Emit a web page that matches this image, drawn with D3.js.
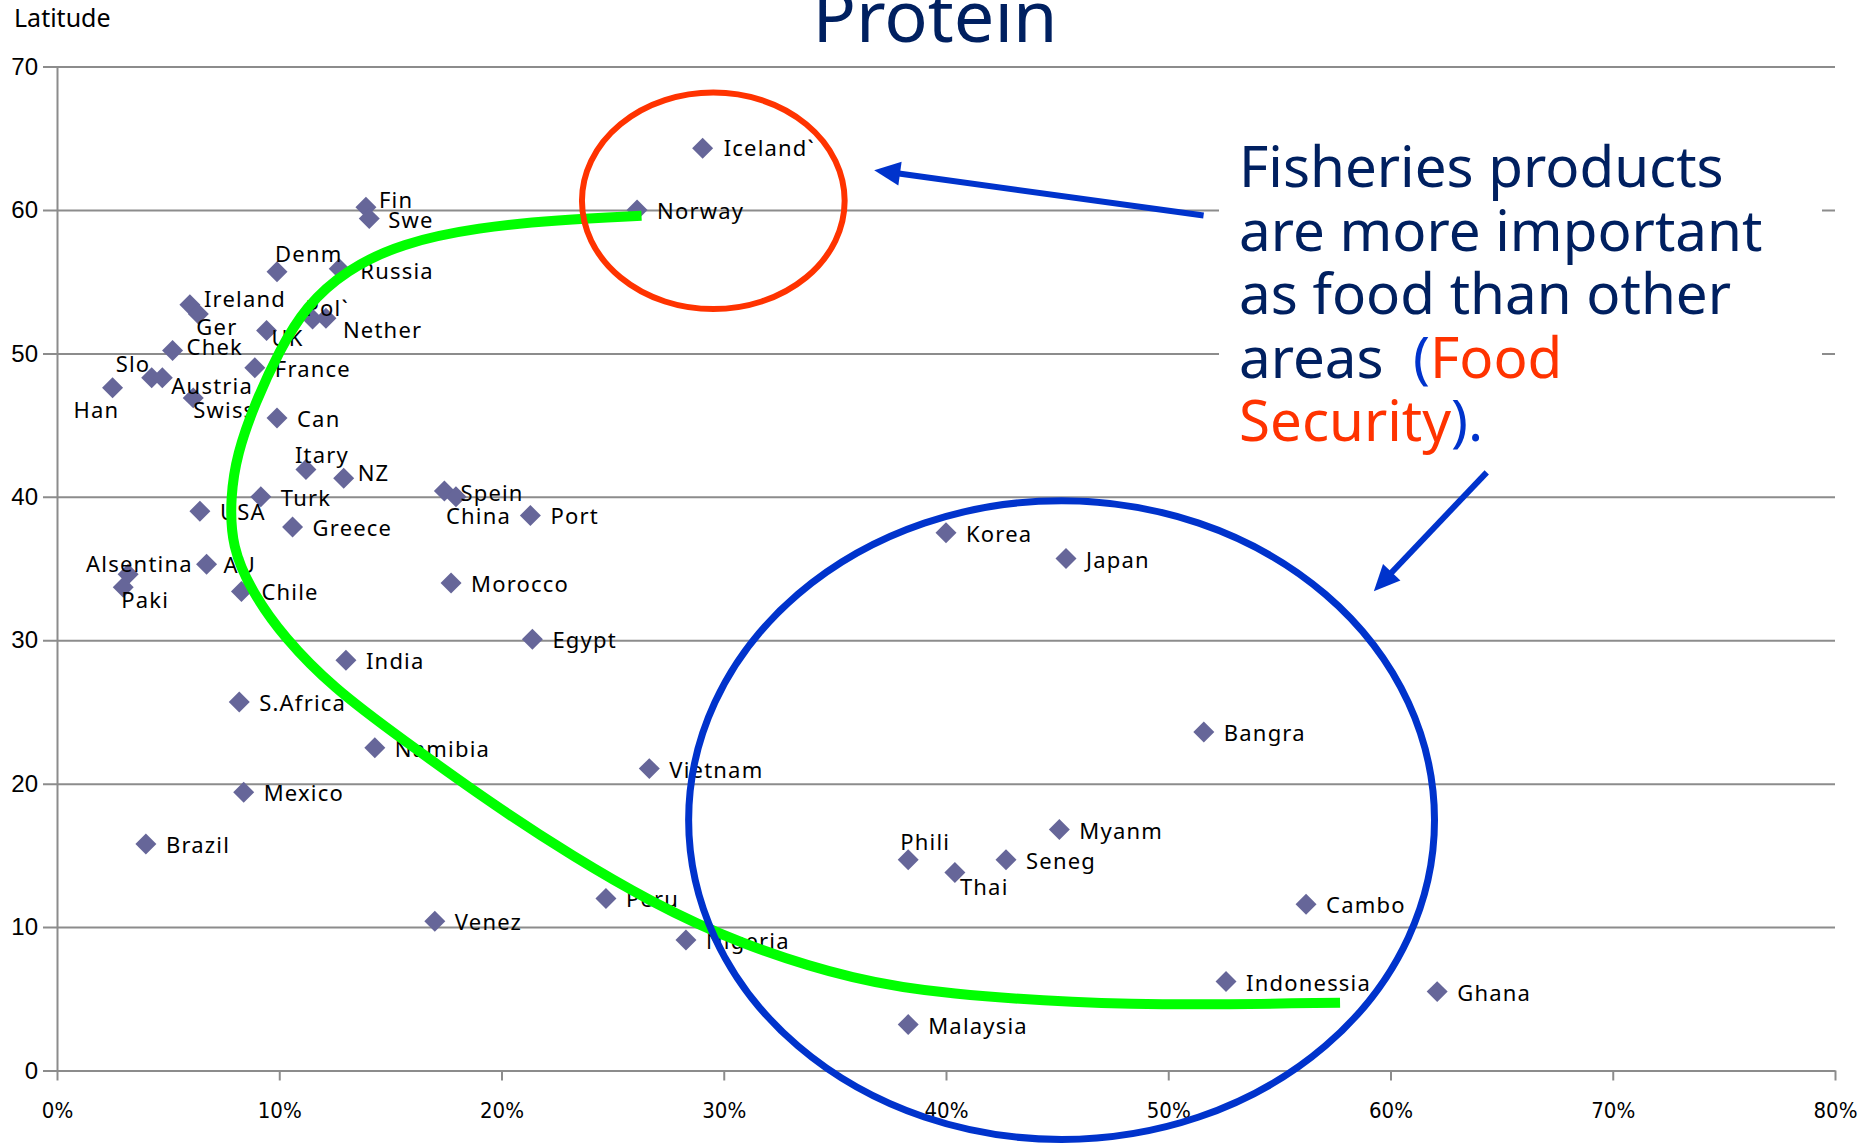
<!DOCTYPE html>
<html>
<head>
<meta charset="utf-8">
<script src="https://cdn.jsdelivr.net/npm/d3@7"></script>
<style>
    body { margin: 0; background: #fff; }
    #chart { width: 1865px; height: 1146px; }
</style>
</head>
<body>
<div id="chart"></div>
<script>
// share of fish in animal protein (%) vs latitude
const countries = ["Iceland`", "Norway", "Fin", "Swe", "Denm", "Russia", "Ireland", "Ger", "Pol`", "Nether",
    "UK", "Chek", "France", "Slo", "Austria", "Han", "Swiss", "Can", "Itary", "NZ",
    "Spein", "China", "Turk", "USA", "Port", "Greece", "Alsentina", "AU", "Paki", "Chile",
    "Morocco", "Egypt", "India", "S.Africa", "Namibia", "Vietnam", "Mexico", "Brazil", "Venez", "Peru",
    "Nigeria", "Korea", "Japan", "Bangra", "Myanm", "Phili", "Seneg", "Thai", "Cambo", "Indonessia",
    "Ghana", "Malaysia"];
const fishShare = [29.05, 26.1, 13.9, 14.05, 9.9, 12.7, 5.98, 6.36, 11.5, 12.1,
    9.43, 5.2, 8.9, 4.26, 4.74, 2.5, 6.13, 9.9, 11.2, 12.9,
    17.43, 17.95, 9.17, 6.43, 21.3, 10.6, 3.2, 6.73, 2.98, 8.3,
    17.73, 21.39, 13.0, 8.2, 14.3, 26.65, 8.4, 4.0, 17.0, 24.7,
    28.3, 40.0, 45.4, 51.6, 45.1, 38.3, 42.7, 40.4, 56.2, 52.6,
    62.1, 38.3];
const latitude = [64.3, 60.0, 60.2, 59.4, 55.7, 55.9, 53.4, 52.75, 52.4, 52.45,
    51.6, 50.2, 49.0, 48.3, 48.3, 47.6, 46.9, 45.5, 41.9, 41.3,
    40.4, 40.0, 40.0, 39.0, 38.7, 37.9, 34.6, 35.3, 33.7, 33.4,
    34.0, 30.07, 28.6, 25.7, 22.5, 21.05, 19.4, 15.8, 10.4, 12.0,
    9.1, 37.5, 35.7, 23.6, 16.8, 14.7, 14.7, 13.8, 11.6, 6.2,
    5.5, 3.2];
const xTicks = [0, 10, 20, 30, 40, 50, 60, 70, 80];
const yTicks = [0, 10, 20, 30, 40, 50, 60, 70];

// hand drawn callouts, in data units
const trendLine = [[26.3, 59.6], [22.5, 59.3], [19.0, 58.8], [15.5, 57.7], [13.0, 55.8], [11.2, 53.3],
    [10.0, 50.2], [8.9, 46.5], [8.1, 43.0], [7.8, 40.0], [7.85, 36.5], [8.8, 33.3], [10.22, 30.18],
    [12.41, 26.7], [15.41, 23.22], [19.9, 18.24], [23.22, 14.93], [26.59, 11.86], [30.6, 8.87],
    [36.01, 6.22], [40.18, 5.31], [45.75, 4.73], [50.88, 4.56], [57.73, 4.73]];
const redRing = {cx: 29.53, cy: 60.64, rx: 5.91, ry: 7.55};
const blueRing = {cx: 45.2, cy: 17.46, rx: 16.78, ry: 22.27};
const arrowLines = [{from: [51.59, 59.62], to: [36.77, 62.78]}, {from: [64.33, 41.71], to: [59.25, 33.42]}];

// label placement (px), default is right of the marker
const labelNudge = {
    "Iceland`": [21, 0], "Fin": [13, -7], "Swe": [19, 1], "Denm": [-2, -18], "Russia": [21, 2],
    "Ireland": [14, -6], "Ger": [-2, 13], "Pol`": [-7, -11], "Nether": [17, 12], "UK": [5, 8],
    "Chek": [14, -4], "Slo": [-36, -14], "Austria": [9, 8], "Han": [-39, 22], "Swiss": [0, 12],
    "Itary": [-11, -15], "NZ": [14, -5], "Spein": [16, 2], "China": [-10, 19], "Alsentina": [-42, -10],
    "AU": [17, 1], "Paki": [-2, 13], "Phili": [-8, -18], "Thai": [5, 14]
};

class FishScatter {
    constructor(parentElement) {
        this.parentElement = parentElement;
        this.data = countries.map((c, i) => ({name: c, x: fishShare[i], y: latitude[i]}));
        this.initVis();
    }
    initVis() {
        let vis = this;
        vis.width = 1865;
        vis.height = 1146;

        vis.svg = d3.select("#" + vis.parentElement).append("svg")
            .attr("width", vis.width)
            .attr("height", vis.height);

        vis.x = d3.scaleLinear().domain([0, 80]).range([57, 1835]);
        vis.y = d3.scaleLinear().domain([0, 70]).range([1070.5, 66.6]);

        vis.updateVis();
    }
    updateVis() {
        let vis = this;
        let plotW = vis.x(80) - vis.x(0);

        // y axis + gridlines
        vis.svg.append("g")
            .attr("transform", `translate(${vis.x(0)},0)`)
            .call(d3.axisLeft(vis.y).tickValues(yTicks).tickSizeInner(-plotW).tickSizeOuter(0).tickPadding(19))
            .call(g => g.select(".domain").attr("stroke", "#8c8c8c").attr("stroke-width", 2))
            .call(g => g.selectAll(".tick line").attr("x1", -14).attr("stroke", "#8c8c8c").attr("stroke-width", 2))
            .call(g => g.selectAll(".tick text").attr("fill", "#000")
                .style("font-family", "'Liberation Sans', Arial, sans-serif").style("font-size", "24px"));

        // x axis
        vis.svg.append("g")
            .attr("transform", `translate(0,${vis.y(0)})`)
            .call(d3.axisBottom(vis.x).tickValues(xTicks).tickSizeInner(10).tickSizeOuter(0).tickPadding(22)
                .tickFormat(d => d + "%"))
            .call(g => g.select(".domain").attr("stroke", "#8c8c8c").attr("stroke-width", 2))
            .call(g => g.selectAll(".tick line").attr("stroke", "#8c8c8c").attr("stroke-width", 2))
            .call(g => g.selectAll(".tick text").attr("fill", "#000")
                .style("font-family", "'Liberation Sans Narrow', 'DejaVu Sans Condensed', sans-serif")
                .style("font-size", "22px"));

        vis.svg.append("text")
            .attr("x", 14).attr("y", 27)
            .style("font-family", "'Noto Sans', sans-serif").style("font-size", "25px")
            .text("Latitude");

        vis.svg.append("text")
            .attr("x", 935).attr("y", 42)
            .attr("text-anchor", "middle")
            .attr("fill", "#002060")
            .style("font-family", "'Noto Sans', sans-serif").style("font-size", "72px")
            .text("Protein");

        // markers
        vis.svg.selectAll(".pt").data(vis.data)
            .enter().append("path")
            .attr("class", "pt")
            .attr("d", d3.symbol().type(d3.symbolSquare).size(220))
            .attr("transform", d => `translate(${vis.x(d.x)},${vis.y(d.y)}) rotate(45)`)
            .attr("fill", "#666699");

        vis.svg.selectAll(".lbl").data(vis.data)
            .enter().append("text")
            .attr("class", "lbl")
            .attr("x", d => vis.x(d.x) + (labelNudge[d.name] || [20, 1])[0])
            .attr("y", d => vis.y(d.y) + (labelNudge[d.name] || [20, 1])[1] + 8)
            .style("font-family", "'Noto Sans', sans-serif")
            .style("font-size", "22px")
            .style("letter-spacing", "1.2px")
            .text(d => d.name);

        // callouts
        vis.svg.append("path")
            .datum(trendLine)
            .attr("fill", "none")
            .attr("stroke", "#00ff00")
            .attr("stroke-width", 10)
            .attr("d", d3.line().curve(d3.curveBasis).x(d => vis.x(d[0])).y(d => vis.y(d[1])));

        [[redRing, "#ff3300", 6], [blueRing, "#0033cc", 7]].forEach(function (r) {
            vis.svg.append("ellipse")
                .attr("cx", vis.x(r[0].cx)).attr("cy", vis.y(r[0].cy))
                .attr("rx", vis.x(r[0].cx + r[0].rx) - vis.x(r[0].cx))
                .attr("ry", vis.y(r[0].cy - r[0].ry) - vis.y(r[0].cy))
                .attr("fill", "none")
                .attr("stroke", r[1])
                .attr("stroke-width", r[2]);
        });

        arrowLines.forEach(function (a) {
            let x1 = vis.x(a.from[0]), y1 = vis.y(a.from[1]);
            let x2 = vis.x(a.to[0]), y2 = vis.y(a.to[1]);
            let len = Math.hypot(x2 - x1, y2 - y1);
            let ux = (x2 - x1) / len, uy = (y2 - y1) / len;
            let bx = x2 - ux * 26, by = y2 - uy * 26;
            vis.svg.append("line")
                .attr("x1", x1).attr("y1", y1)
                .attr("x2", bx + ux * 3).attr("y2", by + uy * 3)
                .attr("stroke", "#0033cc").attr("stroke-width", 6);
            vis.svg.append("polygon")
                .attr("points", [[x2, y2], [bx - uy * 12, by + ux * 12], [bx + uy * 12, by - ux * 12]].join(" "))
                .attr("fill", "#0033cc");
        });

        // note box
        vis.svg.append("rect")
            .attr("x", 1219).attr("y", 115).attr("width", 603).attr("height", 355)
            .attr("fill", "#fff");

        let note = [
            [["Fisheries products", "#002060"]],
            [["are more important", "#002060"]],
            [["as food than other", "#002060"]],
            [["areas  ", "#002060"], ["(", "#0033cc"], ["Food", "#ff3300"]],
            [["Security", "#ff3300"], [")", "#0033cc"], [".", "#0033cc"]]
        ];
        let noteText = vis.svg.append("text")
            .attr("xml:space", "preserve")
            .style("white-space", "pre")
            .style("font-family", "'Noto Sans', sans-serif")
            .style("font-size", "56.5px");
        note.forEach(function (line, i) {
            line.forEach(function (part, j) {
                let t = noteText.append("tspan").attr("fill", part[1]).text(part[0]);
                if (j === 0) t.attr("x", 1239).attr("y", 187 + i * 63.6);
            });
        });
    }
}

new FishScatter("chart");
</script>
</body>
</html>
